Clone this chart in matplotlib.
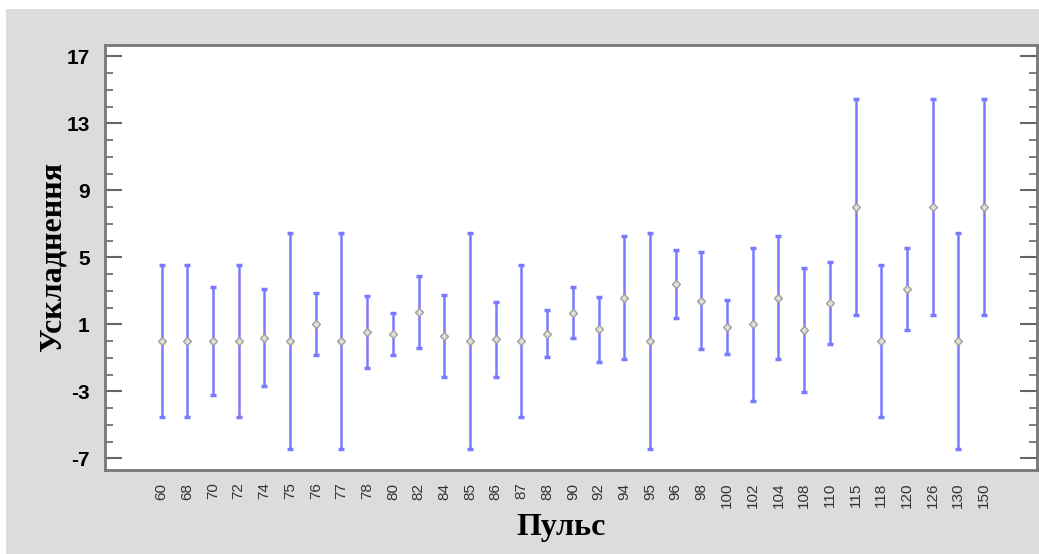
import matplotlib.pyplot as plt
from matplotlib.patches import Rectangle
from matplotlib.ticker import MultipleLocator

plt.rcParams['axes.unicode_minus'] = False

pulse = ['60', '68', '70', '72', '74', '75', '76', '77', '78', '80', '82',
         '84', '85', '86', '87', '88', '90', '92', '94', '95', '96', '98',
         '100', '102', '104', '108', '110', '115', '118', '120', '126', '130', '150']
means = [0, 0, 0, 0, 0.2, 0, 1.0, 0, 0.55, 0.4, 1.75,
         0.3, 0, 0.1, 0, 0.45, 1.7, 0.7, 2.6, 0, 3.4, 2.4,
         0.85, 1.0, 2.6, 0.65, 2.25, 8.0, 0, 3.1, 8.0, 0, 8.0]
half_width = [4.55, 4.55, 3.2, 4.55, 2.9, 6.43, 1.85, 6.43, 2.15, 1.25, 2.15,
              2.45, 6.43, 2.25, 4.55, 1.4, 1.5, 1.95, 3.7, 6.43, 2.05, 2.9,
              1.6, 4.55, 3.7, 3.7, 2.45, 6.43, 4.55, 2.45, 6.43, 6.43, 6.43]

W, H = 1039, 554
fig = plt.figure(figsize=(W / 100, H / 100), dpi=100, facecolor='white')
fig.patches.append(Rectangle((6 / W, 0), 1, 1 - 9 / H, transform=fig.transFigure,
                             facecolor='#dcdcdc', edgecolor='none', zorder=-10))

ax = fig.add_axes([105 / W, 1 - 470 / H, (1037 - 105) / W, (470 - 45) / H])
ax.set_facecolor('white')

x = list(range(len(pulse)))
ax.errorbar(x, means, yerr=half_width, fmt='none', ecolor='#7a7aff',
            elinewidth=1.8, capsize=2.5, capthick=2.5, zorder=2)
ax.plot(x, means, linestyle='none', marker='D', markersize=4.5,
        markerfacecolor='#e0e0d8', markeredgecolor='#a0a0a0', markeredgewidth=1.0, zorder=3)

ax.set_xlim(-2.2, len(pulse) - 1 + 2.06)
ax.set_ylim(-7.7, 17.68)
ax.set_xticks(x)
ax.set_xticklabels(pulse, rotation=90, fontsize=11, family='Liberation Sans', color='#333333')
ax.set_yticks([-7, -3, 1, 5, 9, 13, 17])
ax.yaxis.set_minor_locator(MultipleLocator(1))
for lab in ax.get_yticklabels():
    lab.set_fontsize(15)
    lab.set_fontweight('bold')
    lab.set_family('Liberation Sans')
ax.tick_params(axis='x', length=0, pad=9)
ax.tick_params(axis='y', which='major', direction='in', length=12, width=1.5,
               color='#666666', right=True, pad=11)
ax.tick_params(axis='y', which='minor', direction='in', length=5.5, width=1.2,
               color='#666666', right=True)
for s in ax.spines.values():
    s.set_color('#777777')
    s.set_linewidth(2)

fig.text(53 / W, 1 - 257 / H, 'Ускладнення', rotation=90, ha='center', va='center',
         fontsize=23, fontweight='bold', family='Liberation Serif')
fig.text(561 / W, 1 - 527 / H, 'Пульс', ha='center', va='center',
         fontsize=23, fontweight='bold', family='Liberation Serif')

fig.savefig('out.png', dpi=100, facecolor=fig.get_facecolor())
